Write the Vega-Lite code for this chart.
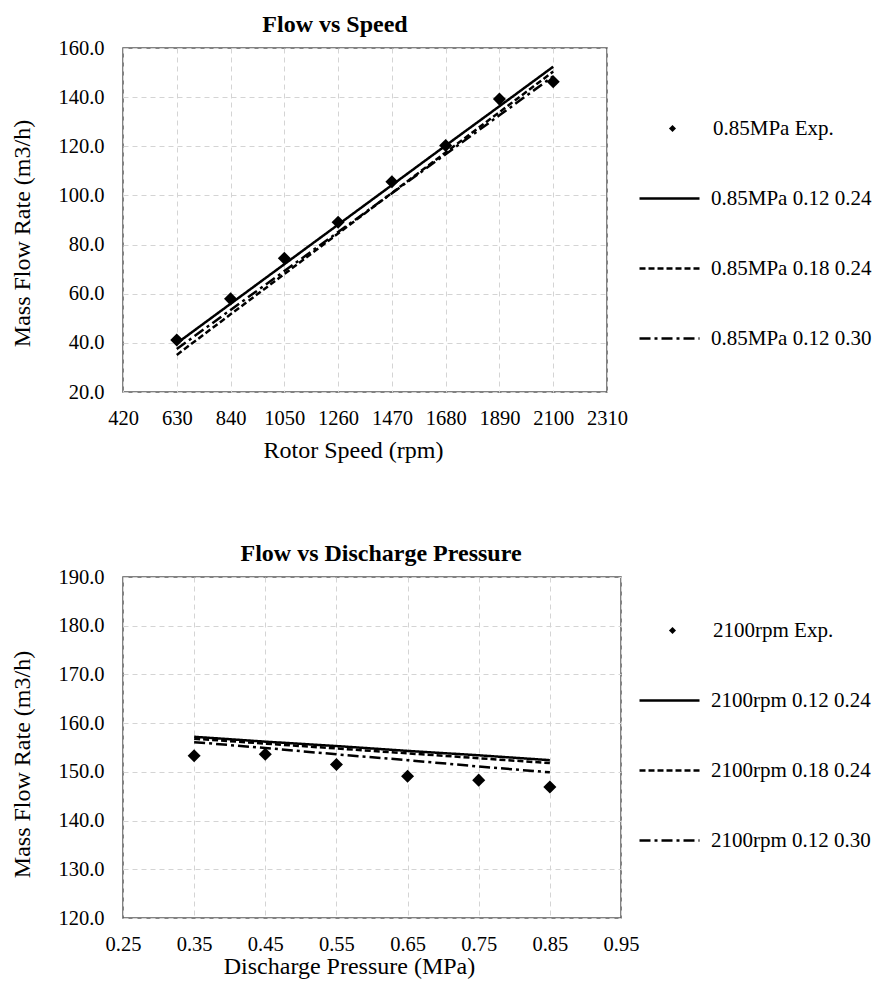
{
  "$schema": "https://vega.github.io/schema/vega-lite/v6.json",
  "padding": {"left": 10, "top": 12, "right": 5, "bottom": 0},
  "config": {
    "font": "Liberation Serif",
    "view": {"stroke": "#595959", "strokeWidth": 1.5},
    "axis": {"labelFont": "Liberation Serif", "labelFontSize": 20.5, "labelColor": "black", "titleFont": "Liberation Serif", "titleFontSize": 24, "titleFontWeight": "normal", "titleColor": "black", "ticks": false, "domain": false, "grid": true, "gridColor": "#d4d4d4", "gridDash": [5, 4], "gridWidth": 1, "labelFlush": false, "labelOverlap": false},
    "axisY": {"labelPadding": 19, "titlePadding": 23},
    "axisX": {"labelPadding": 16, "titlePadding": 0},
    "legend": {"labelFont": "Liberation Serif", "labelFontSize": 21, "labelColor": "black", "labelLimit": 0, "symbolStrokeColor": "black", "symbolStrokeWidth": 2.5, "rowPadding": 28, "orient": "none"},
    "title": {"font": "Liberation Serif", "fontSize": 24, "fontWeight": "bold", "color": "black", "anchor": "middle", "offset": 1}
  },
  "datasets": {
    "speedExp": [
      {"speed": 630, "flow": 41.2, "series": "0.85MPa Exp."},
      {"speed": 840, "flow": 57.9, "series": "0.85MPa Exp."},
      {"speed": 1050, "flow": 74.4, "series": "0.85MPa Exp."},
      {"speed": 1260, "flow": 89.1, "series": "0.85MPa Exp."},
      {"speed": 1470, "flow": 105.6, "series": "0.85MPa Exp."},
      {"speed": 1680, "flow": 120.3, "series": "0.85MPa Exp."},
      {"speed": 1890, "flow": 139.2, "series": "0.85MPa Exp."},
      {"speed": 2100, "flow": 146.3, "series": "0.85MPa Exp."}
    ],
    "speedModel": [
      {"speed": 630, "flow": 39.8, "series": "0.85MPa 0.12 0.24"},
      {"speed": 840, "flow": 55.9, "series": "0.85MPa 0.12 0.24"},
      {"speed": 1050, "flow": 72.0, "series": "0.85MPa 0.12 0.24"},
      {"speed": 1260, "flow": 88.1, "series": "0.85MPa 0.12 0.24"},
      {"speed": 1470, "flow": 104.2, "series": "0.85MPa 0.12 0.24"},
      {"speed": 1680, "flow": 120.3, "series": "0.85MPa 0.12 0.24"},
      {"speed": 1890, "flow": 136.3, "series": "0.85MPa 0.12 0.24"},
      {"speed": 2100, "flow": 152.4, "series": "0.85MPa 0.12 0.24"},
      {"speed": 630, "flow": 35.1, "series": "0.85MPa 0.18 0.24"},
      {"speed": 840, "flow": 51.6, "series": "0.85MPa 0.18 0.24"},
      {"speed": 1050, "flow": 68.0, "series": "0.85MPa 0.18 0.24"},
      {"speed": 1260, "flow": 84.5, "series": "0.85MPa 0.18 0.24"},
      {"speed": 1470, "flow": 101.0, "series": "0.85MPa 0.18 0.24"},
      {"speed": 1680, "flow": 117.5, "series": "0.85MPa 0.18 0.24"},
      {"speed": 1890, "flow": 133.9, "series": "0.85MPa 0.18 0.24"},
      {"speed": 2100, "flow": 150.4, "series": "0.85MPa 0.18 0.24"},
      {"speed": 630, "flow": 37.5, "series": "0.85MPa 0.12 0.30"},
      {"speed": 840, "flow": 53.4, "series": "0.85MPa 0.12 0.30"},
      {"speed": 1050, "flow": 69.2, "series": "0.85MPa 0.12 0.30"},
      {"speed": 1260, "flow": 85.1, "series": "0.85MPa 0.12 0.30"},
      {"speed": 1470, "flow": 100.9, "series": "0.85MPa 0.12 0.30"},
      {"speed": 1680, "flow": 116.8, "series": "0.85MPa 0.12 0.30"},
      {"speed": 1890, "flow": 132.6, "series": "0.85MPa 0.12 0.30"},
      {"speed": 2100, "flow": 148.5, "series": "0.85MPa 0.12 0.30"}
    ],
    "presExp": [
      {"pressure": 0.35, "flow": 153.3, "series": "2100rpm Exp."},
      {"pressure": 0.45, "flow": 153.6, "series": "2100rpm Exp."},
      {"pressure": 0.55, "flow": 151.5, "series": "2100rpm Exp."},
      {"pressure": 0.65, "flow": 149.1, "series": "2100rpm Exp."},
      {"pressure": 0.75, "flow": 148.3, "series": "2100rpm Exp."},
      {"pressure": 0.85, "flow": 146.9, "series": "2100rpm Exp."}
    ],
    "presModel": [
      {"pressure": 0.35, "flow": 157.2, "series": "2100rpm 0.12 0.24"},
      {"pressure": 0.45, "flow": 156.2, "series": "2100rpm 0.12 0.24"},
      {"pressure": 0.55, "flow": 155.3, "series": "2100rpm 0.12 0.24"},
      {"pressure": 0.65, "flow": 154.3, "series": "2100rpm 0.12 0.24"},
      {"pressure": 0.75, "flow": 153.4, "series": "2100rpm 0.12 0.24"},
      {"pressure": 0.85, "flow": 152.4, "series": "2100rpm 0.12 0.24"},
      {"pressure": 0.35, "flow": 156.8, "series": "2100rpm 0.18 0.24"},
      {"pressure": 0.45, "flow": 155.8, "series": "2100rpm 0.18 0.24"},
      {"pressure": 0.55, "flow": 154.8, "series": "2100rpm 0.18 0.24"},
      {"pressure": 0.65, "flow": 153.8, "series": "2100rpm 0.18 0.24"},
      {"pressure": 0.75, "flow": 152.8, "series": "2100rpm 0.18 0.24"},
      {"pressure": 0.85, "flow": 151.8, "series": "2100rpm 0.18 0.24"},
      {"pressure": 0.35, "flow": 156.1, "series": "2100rpm 0.12 0.30"},
      {"pressure": 0.45, "flow": 154.9, "series": "2100rpm 0.12 0.30"},
      {"pressure": 0.55, "flow": 153.6, "series": "2100rpm 0.12 0.30"},
      {"pressure": 0.65, "flow": 152.4, "series": "2100rpm 0.12 0.30"},
      {"pressure": 0.75, "flow": 151.1, "series": "2100rpm 0.12 0.30"},
      {"pressure": 0.85, "flow": 149.9, "series": "2100rpm 0.12 0.30"}
    ]
  },
  "spacing": 77,
  "resolve": {
    "scale": {"x": "independent", "y": "independent", "shape": "independent", "strokeDash": "independent"},
    "legend": {"shape": "independent", "strokeDash": "independent"}
  },
  "vconcat": [
    {
      "width": 484,
      "height": 344,
      "title": {"text": "Flow vs Speed", "dx": -30},
      "layer": [
        {
          "data": {"name": "speedModel"},
          "mark": {"type": "line", "color": "black", "strokeWidth": 2.5},
          "encoding": {
            "x": {"field": "speed", "type": "quantitative", "title": "Rotor Speed (rpm)", "scale": {"domain": [420, 2310], "nice": false, "zero": false}, "axis": {"values": [420, 630, 840, 1050, 1260, 1470, 1680, 1890, 2100, 2310], "format": "d", "titlePadding": 10, "titleX": 230}},
            "y": {"field": "flow", "type": "quantitative", "title": "Mass Flow Rate (m3/h)", "scale": {"domain": [20, 160], "nice": false, "zero": false}, "axis": {"values": [20, 40, 60, 80, 100, 120, 140, 160], "format": ".1f", "titleY": 185}},
            "strokeDash": {"field": "series", "type": "nominal", "sort": null,
              "scale": {"domain": ["0.85MPa 0.12 0.24", "0.85MPa 0.18 0.24", "0.85MPa 0.12 0.30"], "range": [[1, 0], [6, 3], [11, 4, 3, 4]]},
              "legend": {"title": null, "symbolType": "stroke", "symbolSize": 3600, "labelOffset": 10, "legendX": 515, "legendY": 119}}
          }
        },
        {
          "data": {"name": "speedExp"},
          "mark": {"type": "point", "filled": true, "color": "black", "size": 170, "opacity": 1},
          "encoding": {
            "x": {"field": "speed", "type": "quantitative"},
            "y": {"field": "flow", "type": "quantitative"},
            "shape": {"field": "series", "type": "nominal",
              "scale": {"domain": ["0.85MPa Exp."], "range": ["diamond"]},
              "legend": {"title": null, "symbolSize": 50, "symbolFillColor": "black", "symbolStrokeWidth": 0, "labelOffset": 30, "legendX": 539, "legendY": 70}}
          }
        }
      ]
    },
    {
      "width": 498,
      "height": 341,
      "title": {"text": "Flow vs Discharge Pressure", "dx": 9},
      "layer": [
        {
          "data": {"name": "presModel"},
          "mark": {"type": "line", "color": "black", "strokeWidth": 2.5},
          "encoding": {
            "x": {"field": "pressure", "type": "quantitative", "title": "Discharge Pressure (MPa)", "scale": {"domain": [0.25, 0.95], "nice": false, "zero": false}, "axis": {"values": [0.25, 0.35, 0.45, 0.55, 0.65, 0.75, 0.85, 0.95], "format": ".2f", "titlePadding": 0, "titleX": 226}},
            "y": {"field": "flow", "type": "quantitative", "title": "Mass Flow Rate (m3/h)", "scale": {"domain": [120, 190], "nice": false, "zero": false}, "axis": {"values": [120, 130, 140, 150, 160, 170, 180, 190], "format": ".1f", "titleY": 187}},
            "strokeDash": {"field": "series", "type": "nominal", "sort": null,
              "scale": {"domain": ["2100rpm 0.12 0.24", "2100rpm 0.18 0.24", "2100rpm 0.12 0.30"], "range": [[1, 0], [6, 3], [11, 4, 3, 4]]},
              "legend": {"title": null, "symbolType": "stroke", "symbolSize": 3600, "labelOffset": 10, "legendX": 515, "legendY": 92}}
          }
        },
        {
          "data": {"name": "presExp"},
          "mark": {"type": "point", "filled": true, "color": "black", "size": 170, "opacity": 1},
          "encoding": {
            "x": {"field": "pressure", "type": "quantitative"},
            "y": {"field": "flow", "type": "quantitative"},
            "shape": {"field": "series", "type": "nominal",
              "scale": {"domain": ["2100rpm Exp."], "range": ["diamond"]},
              "legend": {"title": null, "symbolSize": 50, "symbolFillColor": "black", "symbolStrokeWidth": 0, "labelOffset": 30, "legendX": 539, "legendY": 43}}
          }
        }
      ]
    }
  ]
}
